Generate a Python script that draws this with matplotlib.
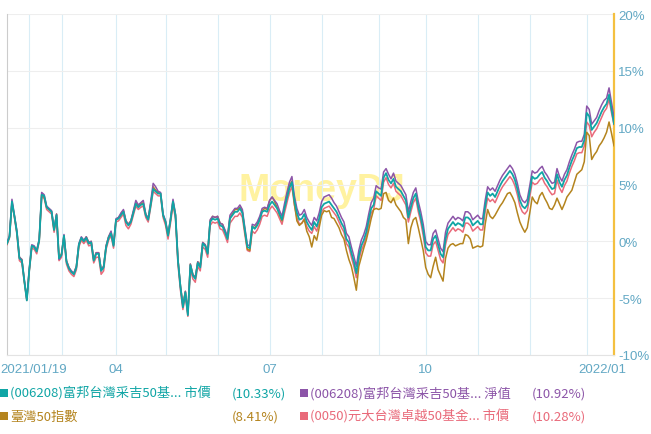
import numpy as np
import matplotlib
matplotlib.use("Agg")
import matplotlib.pyplot as plt
from matplotlib.patches import Rectangle

# cumulative return (%) per trading day, 2021/01/19 .. 2022/01
teal = [
    -0.2, 0.4, 3.5, 2.2, 0.8, -1.5, -1.7, -3.5, -5.2, -2.5,
    -0.4, -0.5, -0.9, 0.1, 4.1, 4.0, 3.0, 2.8, 2.6, 1.0,
    2.3, -1.5, -1.2, 0.5, -1.8, -2.4, -2.7, -2.9, -2.3, -0.3,
    0.3, 0.0, 0.3, -0.2, -0.1, -1.7, -1.1, -1.1, -2.6, -2.3,
    -0.5, 0.3, 0.7, -0.4, 1.9, 2.0, 2.3, 2.6, 1.7, 1.4,
    1.7, 2.5, 3.3, 3.0, 3.2, 3.3, 2.3, 1.9, 3.2, 4.6,
    4.4, 4.2, 4.2, 2.3, 1.7, 0.5, 1.9, 3.5, 2.3, -1.7,
    -4.0, -5.8, -4.5, -6.5, -2.1, -3.0, -3.3, -1.9, -2.3, -0.2,
    -0.4, -1.1, 1.7, 2.0, 1.9, 2.0, 1.4, 1.3, 0.8, 0.2,
    2.0, 2.3, 2.6, 2.6, 2.9, 2.5, 1.0, -0.5, -0.6, 1.3,
    1.1, 1.4, 1.9, 2.6, 2.7, 2.6, 3.2, 3.5, 3.2, 2.9,
    2.4, 1.9, 2.9, 3.8, 4.7, 5.2, 3.6, 2.5, 1.9, 2.0,
    2.4, 1.7, 1.3, 1.0, 1.7, 1.3, 2.0, 3.0, 3.3, 3.4,
    3.5, 3.2, 2.9, 2.6, 2.1, 1.6, 1.2, 0.2, -0.1, -1.0,
    -1.8, -2.8, -1.3, -0.4, 0.1, 0.8, 1.9, 2.9, 3.2, 4.4,
    4.2, 4.0, 5.6, 6.0, 5.4, 5.1, 5.5, 4.8, 4.6, 4.4,
    4.0, 3.6, 2.1, 3.0, 3.8, 4.2, 3.0, 2.1, 1.0, -0.5,
    -0.8, -0.8, 0.2, 0.5, -0.3, -1.1, -1.4, 0.2, 1.1, 1.4,
    1.7, 1.4, 1.6, 1.5, 1.3, 2.1, 2.1, 1.9, 1.4, 1.6,
    1.8, 1.5, 1.5, 3.1, 4.3, 4.0, 4.2, 3.9, 4.4, 4.9,
    5.3, 5.6, 5.9, 6.2, 5.9, 5.4, 4.6, 3.6, 3.1, 2.9,
    3.2, 4.4, 5.7, 5.5, 5.6, 5.9, 6.1, 5.6, 5.3, 4.9,
    4.6, 4.7, 5.9, 5.2, 4.8, 5.4, 5.8, 6.5, 7.1, 7.6,
    8.2, 8.3, 8.3, 8.9, 11.3, 11.0, 9.8, 10.1, 10.4, 10.9,
    11.4, 11.8, 12.1, 12.9, 11.6, 10.33,
]

purple = [
    -0.1, 0.5, 3.7, 2.3, 0.9, -1.4, -1.6, -3.4, -5.1, -2.4,
    -0.3, -0.4, -0.8, 0.2, 4.3, 4.1, 3.1, 2.9, 2.7, 1.1,
    2.4, -1.6, -1.2, 0.6, -1.7, -2.3, -2.6, -2.8, -2.2, -0.2,
    0.4, 0.1, 0.4, -0.1, 0.0, -1.6, -1.0, -1.0, -2.5, -2.2,
    -0.4, 0.4, 0.9, -0.3, 2.0, 2.1, 2.5, 2.8, 1.8, 1.5,
    1.8, 2.7, 3.6, 3.2, 3.4, 3.6, 2.4, 2.0, 3.5, 5.1,
    4.8, 4.4, 4.3, 2.4, 1.8, 0.6, 2.0, 3.7, 2.4, -1.6,
    -3.9, -5.7, -4.4, -6.4, -2.0, -2.9, -3.2, -1.8, -2.2, -0.1,
    -0.3, -1.0, 1.9, 2.2, 2.1, 2.2, 1.6, 1.5, 1.0, 0.4,
    2.3, 2.6, 2.9, 2.9, 3.2, 2.8, 1.2, -0.3, -0.4, 1.5,
    1.4, 1.7, 2.2, 2.9, 3.0, 2.9, 3.6, 3.9, 3.6, 3.3,
    2.7, 2.2, 3.3, 4.3, 5.2, 5.7, 4.0, 2.9, 2.3, 2.4,
    2.8, 2.1, 1.7, 1.4, 2.1, 1.8, 2.5, 3.5, 3.9, 4.0,
    4.1, 3.8, 3.4, 3.1, 2.6, 2.1, 1.7, 0.7, 0.4, -0.5,
    -1.3, -2.2, -0.8, 0.1, 0.6, 1.3, 2.4, 3.4, 3.8, 4.9,
    4.7, 4.6, 6.1, 6.4, 5.9, 5.5, 6.0, 5.3, 5.1, 4.9,
    4.5, 4.1, 2.6, 3.5, 4.3, 4.7, 3.5, 2.6, 1.5, 0.0,
    -0.3, -0.3, 0.7, 1.0, 0.2, -0.6, -0.9, 0.8, 1.6, 1.9,
    2.2, 1.9, 2.1, 2.0, 1.8, 2.6, 2.6, 2.4, 1.9, 2.1,
    2.3, 2.0, 2.0, 3.6, 4.8, 4.5, 4.7, 4.4, 4.9, 5.4,
    5.8, 6.1, 6.4, 6.7, 6.4, 5.9, 5.1, 4.1, 3.6, 3.4,
    3.7, 4.9, 6.2, 6.0, 6.1, 6.4, 6.6, 6.1, 5.8, 5.4,
    5.1, 5.2, 6.4, 5.7, 5.3, 5.9, 6.3, 7.0, 7.6, 8.1,
    8.7, 8.8, 8.8, 9.4, 11.9, 11.6, 10.3, 10.6, 10.9, 11.5,
    12.0, 12.4, 12.6, 13.5, 12.2, 10.92,
]

gold = [
    -0.2, 0.4, 3.4, 2.2, 0.8, -1.4, -1.6, -3.5, -5.1, -2.5,
    -0.4, -0.5, -0.8, 0.1, 4.1, 3.9, 3.0, 2.8, 2.6, 1.0,
    2.4, -1.4, -1.1, 0.5, -1.7, -2.3, -2.7, -2.8, -2.2, -0.3,
    0.3, 0.0, 0.4, -0.1, 0.0, -1.6, -1.0, -1.0, -2.5, -2.2,
    -0.4, 0.4, 0.8, -0.3, 1.9, 2.1, 2.4, 2.7, 1.8, 1.5,
    1.8, 2.6, 3.4, 3.1, 3.3, 3.4, 2.4, 2.0, 3.3, 4.8,
    4.5, 4.3, 4.2, 2.3, 1.7, 0.5, 1.9, 3.5, 2.3, -1.6,
    -3.9, -5.6, -4.4, -6.3, -2.0, -2.9, -3.2, -1.8, -2.1, -0.1,
    -0.3, -1.0, 1.8, 2.2, 2.1, 2.2, 1.6, 1.5, 0.9, 0.3,
    2.1, 2.4, 2.8, 2.8, 3.0, 2.6, 0.9, -0.7, -0.8, 1.3,
    1.2, 1.5, 2.0, 2.7, 2.9, 2.8, 3.6, 3.9, 3.5, 3.0,
    2.3, 1.8, 3.0, 4.1, 4.9, 5.3, 3.3, 1.8, 1.4, 1.6,
    1.9, 0.9, 0.4, -0.5, 0.5, 0.1, 1.2, 2.3, 2.7, 2.6,
    2.7, 2.1, 2.0, 1.6, 1.2, 0.6, 0.2, -0.8, -1.6, -2.2,
    -3.2, -4.3, -2.2, -1.4, -0.6, 0.1, 1.0, 2.0, 2.8, 2.9,
    2.8, 2.9, 4.2, 4.3, 3.6, 3.4, 3.8, 3.2, 2.9, 2.6,
    2.1, 1.9, -0.2, 1.2, 1.9, 2.1, 1.2, 0.2, -0.8, -2.3,
    -2.9, -3.2, -2.2, -1.4, -2.5, -3.0, -3.5, -1.5, -0.6, -0.3,
    -0.2, -0.4, -0.3, -0.2, -0.2, 0.6, 0.5, 0.2, -0.6, -0.5,
    -0.4, -0.5, -0.4, 1.5, 2.8, 2.2, 2.0, 2.3, 2.7, 3.1,
    3.4, 3.8, 4.2, 4.3, 3.9, 3.4, 2.5, 1.7, 1.2, 0.8,
    1.2, 2.5, 3.9, 3.5, 3.3, 4.0, 4.3, 3.8, 3.4, 2.9,
    2.8, 3.2, 3.8, 3.3, 2.8, 3.3, 3.9, 4.2, 4.5, 5.2,
    5.9, 6.1, 6.3, 7.0, 9.6, 9.3, 7.2, 7.6, 7.9, 8.4,
    8.7, 9.1, 9.6, 10.5, 9.5, 8.41,
]

pink = [
    -0.3, 0.3, 3.4, 2.1, 0.6, -1.7, -1.9, -3.6, -5.2, -2.6,
    -0.6, -0.7, -1.1, 0.0, 3.9, 3.8, 2.8, 2.6, 2.4, 0.8,
    2.1, -1.7, -1.4, 0.3, -2.0, -2.6, -2.9, -3.1, -2.5, -0.5,
    0.1, -0.2, 0.1, -0.4, -0.3, -1.9, -1.4, -1.4, -2.9, -2.6,
    -0.7, 0.1, 0.5, -0.6, 1.7, 1.8, 2.1, 2.4, 1.4, 1.1,
    1.5, 2.3, 3.1, 2.8, 3.0, 3.1, 2.1, 1.7, 3.0, 4.4,
    4.2, 4.0, 4.0, 2.1, 1.4, 0.2, 1.6, 3.2, 2.0, -2.0,
    -4.3, -6.0, -4.8, -6.6, -2.4, -3.3, -3.6, -2.2, -2.6, -0.5,
    -0.7, -1.4, 1.4, 1.7, 1.6, 1.7, 1.1, 1.0, 0.5, -0.1,
    1.6, 1.9, 2.2, 2.2, 2.5, 2.1, 0.6, -0.8, -0.9, 0.9,
    0.7, 1.0, 1.5, 2.2, 2.3, 2.2, 2.8, 3.1, 2.8, 2.5,
    2.0, 1.5, 2.5, 3.4, 4.3, 4.8, 3.2, 2.1, 1.5, 1.6,
    2.0, 1.3, 0.9, 0.7, 1.3, 0.9, 1.6, 2.6, 2.9, 3.0,
    3.1, 2.8, 2.5, 2.2, 1.7, 1.2, 0.8, -0.2, -0.5, -1.4,
    -2.2, -3.2, -1.7, -0.8, -0.3, 0.4, 1.5, 2.5, 2.8, 4.0,
    3.8, 3.6, 5.2, 5.6, 5.0, 4.7, 5.1, 4.4, 4.2, 4.0,
    3.6, 3.2, 1.7, 2.6, 3.4, 3.8, 2.6, 1.7, 0.5, -1.0,
    -1.3, -1.3, -0.3, 0.0, -0.8, -1.6, -1.9, -0.3, 0.6, 0.9,
    1.2, 0.9, 1.1, 1.0, 0.8, 1.6, 1.6, 1.4, 0.9, 1.1,
    1.3, 1.0, 1.0, 2.6, 3.8, 3.5, 3.7, 3.4, 3.9, 4.4,
    4.8, 5.1, 5.4, 5.7, 5.4, 4.9, 4.1, 3.1, 2.6, 2.4,
    2.7, 3.9, 5.2, 5.0, 5.1, 5.4, 5.6, 5.1, 4.8, 4.4,
    4.1, 4.2, 5.4, 4.7, 4.3, 4.9, 5.3, 6.0, 6.6, 7.1,
    7.7, 7.8, 7.8, 8.4, 10.5, 10.2, 9.2, 9.6, 9.9, 10.4,
    10.9, 11.4, 11.7, 12.5, 11.3, 10.28,
]

# trading-day index of each month start (grid lines)
month_starts = [9, 22, 44, 64, 85, 106, 127, 150, 169, 190, 211, 234]
tick_days = [0, 44, 106, 169, 234]
tick_labels = ["2021/01/19", "04", "07", "10", "2022/01"]
y_ticks = [-10, -5, 0, 5, 10, 15, 20]

names = ["(006208)富邦台灣采吉50基... 市價", "(006208)富邦台灣采吉50基... 淨值",
         "臺灣50指數", "(0050)元大台灣卓越50基金... 市價"]
returns = ["(10.33%)", "(10.92%)", "(8.41%)", "(10.28%)"]

TEAL = "#10a5a5"
PURPLE = "#8c55a8"
GOLD = "#b4841e"
PINK = "#e96a7a"
AXIS_TXT = "#62a8c4"

plt.rcParams["font.family"] = ["Noto Sans CJK TC", "DejaVu Sans"]

W, H = 651, 435
fig = plt.figure(figsize=(W / 100, H / 100), dpi=100)
ax = fig.add_axes([7 / W, 79 / H, 607 / W, 341 / H])

days = np.arange(len(teal))
ax.text(127, 3.6, "MoneyDJ", fontsize=27, fontweight="bold", family="Liberation Sans",
        color="#fff2a0", ha="center", va="baseline", zorder=1)

ax.plot(days, pink, color=PINK, lw=1.1, zorder=3)
ax.plot(days, gold, color=GOLD, lw=1.1, zorder=3)
ax.plot(days, purple, color=PURPLE, lw=1.1, zorder=3)
ax.plot(days, teal, color=TEAL, lw=1.3, zorder=4)

ax.set_xlim(0, len(teal) - 1)
ax.set_ylim(-10, 20)

ax.set_yticks(y_ticks)
ax.set_yticklabels([f"{v}%" for v in y_ticks], family="Liberation Sans")
ax.yaxis.tick_right()
ax.tick_params(axis="y", length=0, pad=3, labelcolor=AXIS_TXT, labelsize=9.5)
ax.set_xticks(month_starts)
ax.set_xticklabels([])
ax.tick_params(axis="x", length=0)
ax.grid(axis="y", color="#eeeeee", lw=0.8, zorder=0)
ax.grid(axis="x", color="#d9edf6", lw=0.8, zorder=0)

ax.spines["top"].set_visible(False)
ax.spines["left"].set_color("#cccccc")
ax.spines["left"].set_linewidth(0.8)
ax.spines["bottom"].set_color("#e3e3e3")
ax.spines["bottom"].set_linewidth(0.8)
ax.spines["right"].set_color("#f4c040")
ax.spines["right"].set_linewidth(1.6)

# x labels: first justified to the left edge, last nudged right
for d, lab in zip(tick_days, tick_labels):
    ha, dx = "center", 0
    if d == tick_days[0]:
        ha, dx = "left", -7
    elif d == tick_days[-1]:
        dx = 16
    ax.annotate(lab, xy=(d, 0), xycoords=("data", "axes fraction"),
                xytext=(dx, -14), textcoords="offset pixels", ha=ha, va="center",
                color=AXIS_TXT, fontsize=9.5, family="Liberation Sans")

# legend, two rows
colors = [TEAL, PURPLE, GOLD, PINK]
col_x = [0, 300]
row_y = [394, 417]
for i, (name, ret, c) in enumerate(zip(names, returns, colors)):
    x0 = col_x[i % 2]
    y0 = row_y[i // 2]
    fig.add_artist(Rectangle((x0 / W, (H - y0 - 4) / H), 8 / W, 8 / H,
                             transform=fig.transFigure, color=c, lw=0))
    fig.text((x0 + 10) / W, (H - y0) / H, name, color=c, fontsize=9.5,
             ha="left", va="center")
    fig.text((x0 + 232) / W, (H - y0) / H, ret, color=c, fontsize=9.5,
             ha="left", va="center")

fig.savefig("out.png", dpi=100)
